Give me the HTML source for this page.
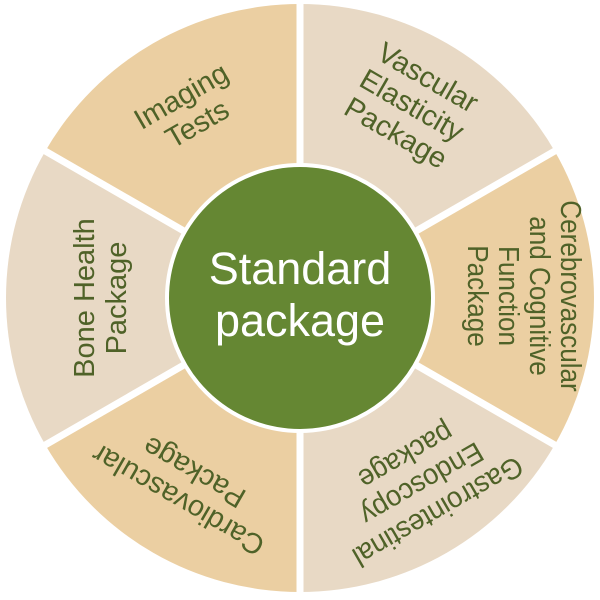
<!DOCTYPE html>
<html><head><meta charset="utf-8"><style>
html,body{margin:0;padding:0;background:#fff;}
svg{display:block;}
text{font-family:"Liberation Sans",Arial,sans-serif;}
.l{fill:#4F6228;font-size:29px;text-anchor:middle;}
</style></head><body>
<svg width="600" height="600" viewBox="0 0 600 600" xmlns="http://www.w3.org/2000/svg">
<g transform="translate(300,298)">
  <path d="M0,0 L0,-294 A294,294 0 0,1 254.6,-147 Z" fill="#E8D9C5"/>
  <path d="M0,0 L254.6,-147 A294,294 0 0,1 254.6,147 Z" fill="#EBCFA2"/>
  <path d="M0,0 L254.6,147 A294,294 0 0,1 0,294 Z" fill="#E8D9C5"/>
  <path d="M0,0 L0,294 A294,294 0 0,1 -254.6,147 Z" fill="#EBCFA2"/>
  <path d="M0,0 L-254.6,147 A294,294 0 0,1 -254.6,-147 Z" fill="#E8D9C5"/>
  <path d="M0,0 L-254.6,-147 A294,294 0 0,1 0,-294 Z" fill="#EBCFA2"/>
  <g stroke="#fff" stroke-width="7">
    <line x1="0" y1="0" x2="0" y2="-300"/>
    <line x1="0" y1="0" x2="0" y2="300"/>
    <line x1="0" y1="0" x2="260" y2="-150"/>
    <line x1="0" y1="0" x2="260" y2="150"/>
    <line x1="0" y1="0" x2="-260" y2="-150"/>
    <line x1="0" y1="0" x2="-260" y2="150"/>
  </g>
  <circle cx="0" cy="0" r="133" fill="#658733" stroke="#fff" stroke-width="4"/>
  <text x="0" y="-14" fill="#fff" font-size="45" text-anchor="middle">Standard</text>
  <text x="0" y="38" fill="#fff" font-size="45" text-anchor="middle">package</text>

  <g transform="translate(-112,-190) rotate(-30)">
    <text class="l" x="0" y="-4">Imaging</text>
    <text class="l" x="0" y="28">Tests</text>
  </g>
  <g transform="translate(112,-193) rotate(30)">
    <text class="l" x="0" y="-22">Vascular</text>
    <text class="l" x="0" y="10">Elasticity</text>
    <text class="l" x="0" y="42">Package</text>
  </g>
  <g transform="translate(225,-2) rotate(90) scale(0.9,1)">
    <text class="l" x="0" y="-36">Cerebrovascular</text>
    <text class="l" x="0" y="-5">and Cognitive</text>
    <text class="l" x="0" y="26">Function</text>
    <text class="l" x="0" y="57">Package</text>
  </g>
  <g transform="translate(122,186) rotate(150) scale(0.95,1)">
    <text class="l" x="0" y="-22">Gastrointestinal</text>
    <text class="l" x="0" y="10">Endoscopy</text>
    <text class="l" x="0" y="42">package</text>
  </g>
  <g transform="translate(-115,190) rotate(210)">
    <text class="l" x="0" y="-4">Cardiovascular</text>
    <text class="l" x="0" y="28">Package</text>
  </g>
  <g transform="translate(-202,0) rotate(-90)">
    <text class="l" x="0" y="-4">Bone Health</text>
    <text class="l" x="0" y="28">Package</text>
  </g>
</g>
</svg>
</body></html>
